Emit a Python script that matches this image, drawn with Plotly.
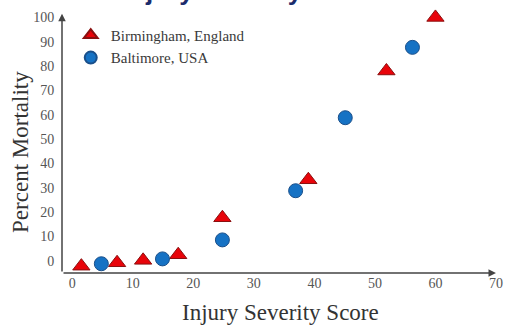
import plotly.graph_objects as go

# Data
birm_iss = [1.5, 7.4, 11.7, 17.5, 24.8, 39.0, 51.9, 60.0]
birm_mort = [-2.2, -0.8, 0.2, 2.5, 17.7, 33.3, 78.0, 100.0]
balt_iss = [4.8, 14.9, 24.8, 36.9, 45.1, 56.2]
balt_mort = [-1.2, 0.8, 8.6, 28.8, 58.8, 87.7]
x_ticks = [0, 10, 20, 30, 40, 50, 60, 70]
y_ticks = [0, 10, 20, 30, 40, 50, 60, 70, 80, 90, 100]

XMIN, XMAX = -1.7, 70.5
YMIN, YMAX = -5, 101
serif = "Liberation Serif, Times New Roman, serif"

fig = go.Figure()
fig.add_trace(go.Scatter(
    x=birm_iss, y=birm_mort, mode="markers", name="Birmingham, England",
    cliponaxis=False,
    marker=dict(symbol="triangle-up", size=15, color="#e8040a",
                line=dict(color="#8a1010", width=1)),
))
fig.add_trace(go.Scatter(
    x=balt_iss, y=balt_mort, mode="markers", name="Baltimore, USA",
    cliponaxis=False,
    marker=dict(symbol="circle", size=14, color="#1672c4",
                line=dict(color="#1a4f8a", width=1)),
))

# axis arrows
fig.add_annotation(x=XMAX - 0.5, y=YMIN, ax=XMIN, ay=YMIN, xref="x", yref="y",
                   axref="x", ayref="y", showarrow=True, arrowhead=2,
                   arrowsize=1, arrowwidth=1.5, arrowcolor="#444", text="")
fig.add_annotation(x=XMIN, y=YMAX + 0.5, ax=XMIN, ay=YMIN, xref="x", yref="y",
                   axref="x", ayref="y", showarrow=True, arrowhead=2,
                   arrowsize=1, arrowwidth=1.5, arrowcolor="#444", text="")

# title, mostly cut off at the top edge as in the reference
fig.add_annotation(text="Injury Severity Score", x=0.435, y=1.027,
                   xref="paper", yref="paper", xanchor="center", yanchor="bottom",
                   showarrow=False,
                   font=dict(family="Liberation Sans, Arial, sans-serif",
                             size=26, color="#1c2c6c", weight="bold"))

# axis titles
fig.add_annotation(text="Injury Severity Score", x=0.501, y=-0.152,
                   xref="paper", yref="paper", xanchor="center", yanchor="middle",
                   showarrow=False,
                   font=dict(family=serif, size=23, color="#333"))
fig.add_annotation(text="Percent Mortality", x=-0.094, y=0.469, textangle=-90,
                   xref="paper", yref="paper", xanchor="center", yanchor="middle",
                   showarrow=False,
                   font=dict(family=serif, size=23, color="#333"))

fig.update_layout(
    width=507, height=327,
    margin=dict(l=62, r=8, t=15, b=54),
    paper_bgcolor="white", plot_bgcolor="white",
    showlegend=True,
    legend=dict(x=0.02, y=0.985, xanchor="left", yanchor="top",
                font=dict(family=serif, size=15, color="#3a3a3a"),
                bgcolor="rgba(0,0,0,0)", itemsizing="constant",
                tracegroupgap=2),
    xaxis=dict(range=[XMIN, XMAX], tickvals=x_ticks, showgrid=False,
               zeroline=False, showline=False, ticks="", automargin=False,
               tickfont=dict(family=serif, size=14, color="#555")),
    yaxis=dict(range=[YMIN, YMAX], tickvals=y_ticks, showgrid=False,
               zeroline=False, showline=False, ticks="outside", ticklen=4,
               tickcolor="rgba(0,0,0,0)", automargin=False,
               tickfont=dict(family=serif, size=14, color="#555")),
)

fig.write_html("out.html", config={"displayModeBar": False},
               post_script="document.body.style.margin='0';document.body.style.overflow='hidden';")
